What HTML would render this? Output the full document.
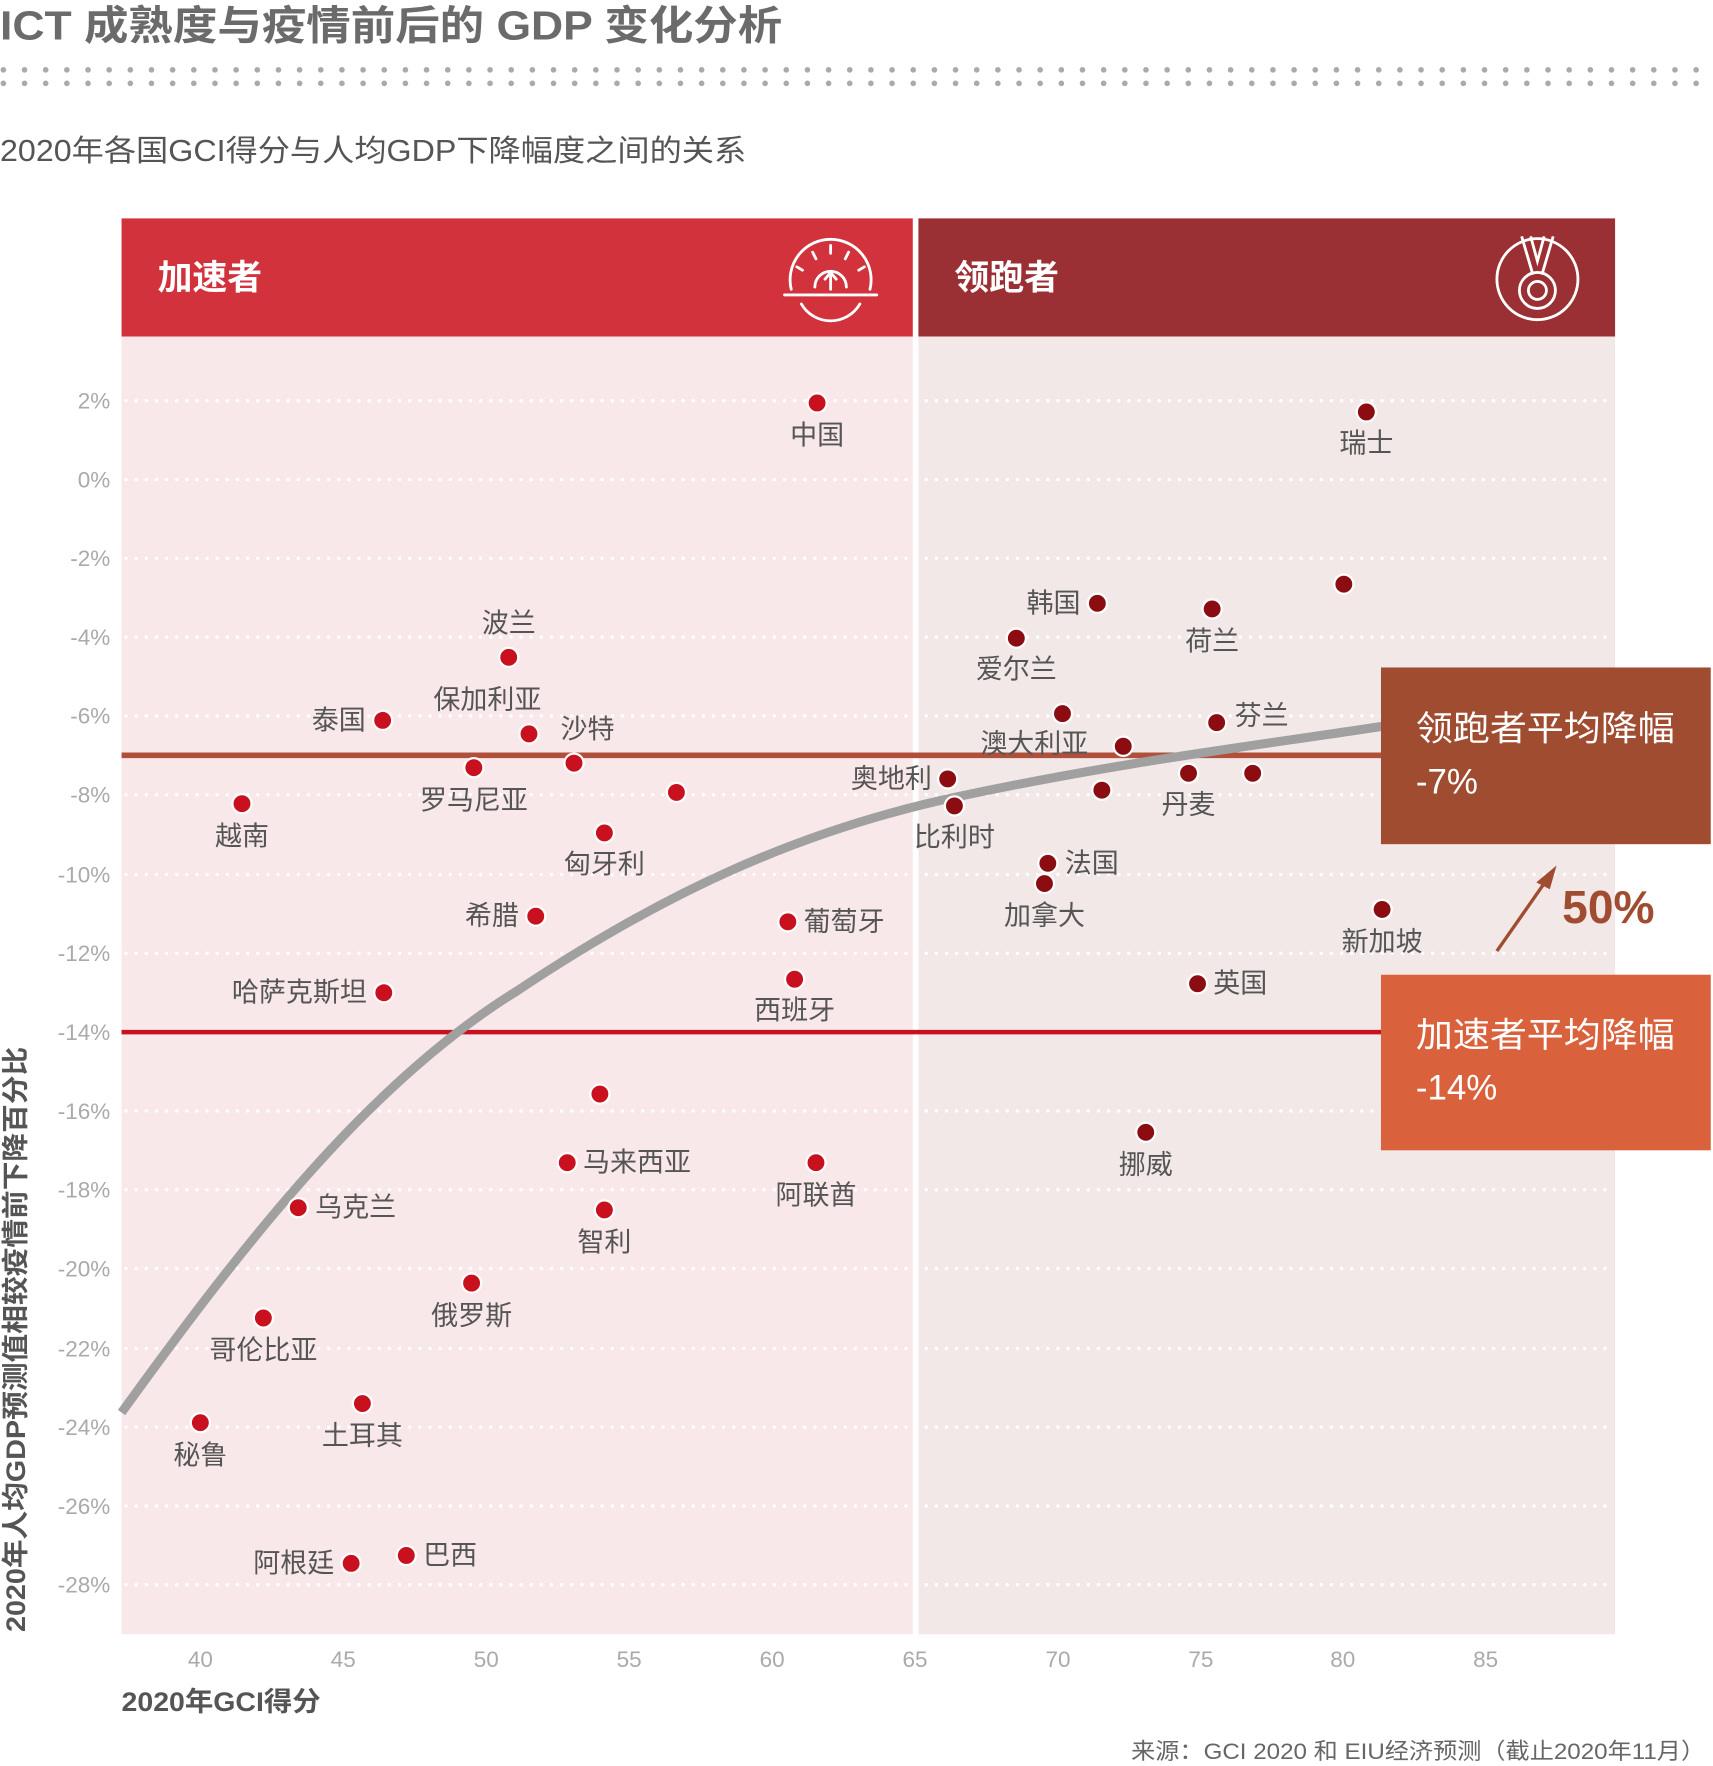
<!DOCTYPE html>
<html><head><meta charset="utf-8"><style>
html,body{margin:0;padding:0;background:#fff;}
svg{display:block;}
text{font-family:"Liberation Sans","Noto Sans CJK SC",sans-serif;}
</style></head><body>
<svg width="1713" height="1766" viewBox="0 0 1522 1569" xmlns="http://www.w3.org/2000/svg">
<text x="0" y="35" font-size="36" font-weight="600" fill="#6b6b6b" textLength="695" lengthAdjust="spacingAndGlyphs">ICT 成熟度与疫情前后的 GDP 变化分析</text>
<line x1="3" y1="62" x2="1522" y2="62" stroke="#aaa" stroke-width="5" stroke-linecap="round" stroke-dasharray="0 18.8"/>
<line x1="3" y1="74" x2="1522" y2="74" stroke="#aaa" stroke-width="5" stroke-linecap="round" stroke-dasharray="0 18.8"/>
<text x="0" y="143" font-size="27" fill="#555" textLength="663" lengthAdjust="spacingAndGlyphs">2020年各国GCI得分与人均GDP下降幅度之间的关系</text>

<rect x="108" y="194" width="703" height="105" fill="#d1323b"/>
<rect x="816" y="194" width="619" height="105" fill="#9a3034"/>
<rect x="108" y="299" width="703" height="1153" fill="#f9e8ea"/>
<rect x="816" y="299" width="619" height="1153" fill="#f3e8e8"/>
<text x="140" y="257" font-size="31" font-weight="bold" fill="#fff">加速者</text>
<text x="848" y="257" font-size="31" font-weight="bold" fill="#fff">领跑者</text>
<g fill="none" stroke="#fff" stroke-width="2.5" stroke-linecap="round">
<path d="M703,257 A36,36 0 1 1 773,257"/>
<line x1="697" y1="262" x2="779" y2="262"/>
<path d="M712,270 A30,30 0 0 0 764,270"/>
<path d="M724,255 A14,14 0 0 1 752,255"/>
<line x1="738" y1="257" x2="738" y2="243"/><path d="M733,248 L738,242 L743,248"/>
<line x1="722" y1="224" x2="725" y2="230"/><line x1="738" y1="218" x2="738" y2="225"/><line x1="754" y1="224" x2="751" y2="230"/>
<line x1="708" y1="237" x2="713" y2="240"/><line x1="768" y1="237" x2="763" y2="240"/>
</g>
<g fill="none" stroke="#fff" stroke-width="2.5">
<circle cx="1366" cy="248" r="36"/>
<circle cx="1366" cy="258" r="16"/><circle cx="1366" cy="258" r="8"/>
<path d="M1352,210 L1362,244 M1380,210 L1370,244 M1360,210 L1366,232 L1372,210"/>
</g>

<g stroke="#fff" stroke-width="3" stroke-linecap="round" stroke-dasharray="0 9">
<line x1="112" y1="356" x2="1435" y2="356"/><line x1="112" y1="426" x2="1435" y2="426"/>
<line x1="112" y1="496" x2="1435" y2="496"/><line x1="112" y1="566" x2="1435" y2="566"/>
<line x1="112" y1="636" x2="1435" y2="636"/><line x1="112" y1="706" x2="1435" y2="706"/>
<line x1="112" y1="777" x2="1435" y2="777"/><line x1="112" y1="847" x2="1435" y2="847"/>
<line x1="112" y1="987" x2="1435" y2="987"/><line x1="112" y1="1057" x2="1435" y2="1057"/>
<line x1="112" y1="1127" x2="1435" y2="1127"/><line x1="112" y1="1198" x2="1435" y2="1198"/>
<line x1="112" y1="1268" x2="1435" y2="1268"/><line x1="112" y1="1338" x2="1435" y2="1338"/>
<line x1="112" y1="1408" x2="1435" y2="1408"/>
</g>
<g font-size="20" fill="#aaa" text-anchor="end">
<text x="98" y="363">2%</text><text x="98" y="433">0%</text><text x="98" y="503">-2%</text>
<text x="98" y="573">-4%</text><text x="98" y="643">-6%</text><text x="98" y="713">-8%</text>
<text x="98" y="784">-10%</text><text x="98" y="854">-12%</text><text x="98" y="924">-14%</text>
<text x="98" y="994">-16%</text><text x="98" y="1064">-18%</text><text x="98" y="1134">-20%</text>
<text x="98" y="1205">-22%</text><text x="98" y="1275">-24%</text><text x="98" y="1345">-26%</text>
<text x="98" y="1415">-28%</text>
</g>
<g font-size="20" fill="#aaa" text-anchor="middle">
<text x="178" y="1481">40</text><text x="305" y="1481">45</text><text x="432" y="1481">50</text>
<text x="559" y="1481">55</text><text x="686" y="1481">60</text><text x="813" y="1481">65</text>
<text x="940" y="1481">70</text><text x="1067" y="1481">75</text><text x="1193" y="1481">80</text>
<text x="1320" y="1481">85</text>
</g>
<text x="108" y="1520" font-size="24" font-weight="bold" fill="#555" textLength="177" lengthAdjust="spacingAndGlyphs">2020年GCI得分</text>
<text transform="translate(22,1190) rotate(-90)" font-size="24" font-weight="bold" fill="#555" text-anchor="middle" textLength="520" lengthAdjust="spacingAndGlyphs">2020年人均GDP预测值相较疫情前下降百分比</text>
<text x="1515" y="1563" font-size="20" fill="#666" text-anchor="end" textLength="510" lengthAdjust="spacingAndGlyphs">来源：GCI 2020 和 EIU经济预测（截止2020年11月）</text>

<line x1="108" y1="671" x2="1230" y2="671" stroke="#b0503a" stroke-width="5"/>
<line x1="108" y1="917" x2="1230" y2="917" stroke="#c8101e" stroke-width="4"/>
<path d="M108,1255 C220,1100 330,960 460,880 C580,800 700,740 850,708 C1000,676 1120,662 1230,645" fill="none" stroke="#a0a0a0" stroke-width="8"/>

<rect x="1227" y="593" width="293" height="157" fill="#a04c31"/>
<rect x="1227" y="866" width="293" height="156" fill="#d9623d"/>
<g font-size="31" fill="#fff">
<text x="1258" y="658" textLength="230" lengthAdjust="spacingAndGlyphs">领跑者平均降幅</text><text x="1258" y="705">-7%</text>
<text x="1258" y="930" textLength="230" lengthAdjust="spacingAndGlyphs">加速者平均降幅</text><text x="1258" y="977">-14%</text>
</g>
<line x1="1330" y1="845" x2="1374" y2="782" stroke="#a04c31" stroke-width="3"/>
<path d="M1383,769 L1365,784 L1377,790 Z" fill="#a04c31"/>
<text x="1388" y="820" font-size="41" font-weight="bold" fill="#a04c31">50%</text>

<g stroke="#fff" stroke-width="2" fill="#c8101e">
<circle cx="726" cy="358" r="8.5"/><circle cx="452" cy="584" r="8.5"/><circle cx="340" cy="640" r="8.5"/>
<circle cx="470" cy="652" r="8.5"/><circle cx="510" cy="678" r="8.5"/><circle cx="421" cy="682" r="8.5"/>
<circle cx="601" cy="704" r="8.5"/><circle cx="215" cy="714" r="8.5"/><circle cx="537" cy="740" r="8.5"/>
<circle cx="476" cy="814" r="8.5"/><circle cx="700" cy="819" r="8.5"/><circle cx="706" cy="870" r="8.5"/>
<circle cx="341" cy="882" r="8.5"/><circle cx="533" cy="972" r="8.5"/><circle cx="504" cy="1033" r="8.5"/>
<circle cx="725" cy="1033" r="8.5"/><circle cx="537" cy="1075" r="8.5"/><circle cx="265" cy="1073" r="8.5"/>
<circle cx="419" cy="1140" r="8.5"/><circle cx="234" cy="1171" r="8.5"/><circle cx="322" cy="1247" r="8.5"/>
<circle cx="178" cy="1264" r="8.5"/><circle cx="312" cy="1389" r="8.5"/><circle cx="361" cy="1382" r="8.5"/>
</g>
<g stroke="#fff" stroke-width="2" fill="#8b0d12">
<circle cx="1214" cy="366" r="8.5"/><circle cx="1194" cy="519" r="8.5"/><circle cx="975" cy="536" r="8.5"/>
<circle cx="1077" cy="541" r="8.5"/><circle cx="903" cy="567" r="8.5"/><circle cx="944" cy="634" r="8.5"/>
<circle cx="1081" cy="642" r="8.5"/><circle cx="998" cy="663" r="8.5"/><circle cx="1056" cy="687" r="8.5"/>
<circle cx="1113" cy="687" r="8.5"/><circle cx="979" cy="702" r="8.5"/><circle cx="842" cy="692" r="8.5"/>
<circle cx="848" cy="716" r="8.5"/><circle cx="931" cy="767" r="8.5"/><circle cx="928" cy="785" r="8.5"/>
<circle cx="1228" cy="808" r="8.5"/><circle cx="1064" cy="874" r="8.5"/><circle cx="1018" cy="1006" r="8.5"/>
</g>
<g font-size="24" fill="#555" text-anchor="middle">
<text x="726" y="395">中国</text><text x="1214" y="402">瑞士</text><text x="1077" y="578">荷兰</text>
<text x="903" y="603">爱尔兰</text><text x="919" y="669">澳大利亚</text><text x="1056" y="723">丹麦</text>
<text x="848" y="752">比利时</text><text x="928" y="822">加拿大</text><text x="1228" y="845">新加坡</text>
<text x="1018" y="1043">挪威</text><text x="452" y="562">波兰</text><text x="433" y="630">保加利亚</text>
<text x="522" y="656">沙特</text><text x="421" y="719">罗马尼亚</text><text x="215" y="751">越南</text>
<text x="537" y="776">匈牙利</text><text x="706" y="906">西班牙</text><text x="725" y="1070">阿联酋</text>
<text x="537" y="1112">智利</text><text x="419" y="1177">俄罗斯</text><text x="234" y="1208">哥伦比亚</text>
<text x="322" y="1284">土耳其</text><text x="178" y="1301">秘鲁</text>
</g>
<g font-size="24" fill="#555" text-anchor="end">
<text x="960" y="544">韩国</text><text x="828" y="700">奥地利</text><text x="325" y="648">泰国</text>
<text x="461" y="822">希腊</text><text x="326" y="890">哈萨克斯坦</text><text x="297" y="1397">阿根廷</text>
</g>
<g font-size="24" fill="#555">
<text x="1097" y="644">芬兰</text><text x="946" y="775">法国</text><text x="1078" y="882">英国</text>
<text x="714" y="827">葡萄牙</text><text x="518" y="1041">马来西亚</text><text x="280" y="1081">乌克兰</text>
<text x="376" y="1390">巴西</text>
</g>
</svg>
</body></html>
